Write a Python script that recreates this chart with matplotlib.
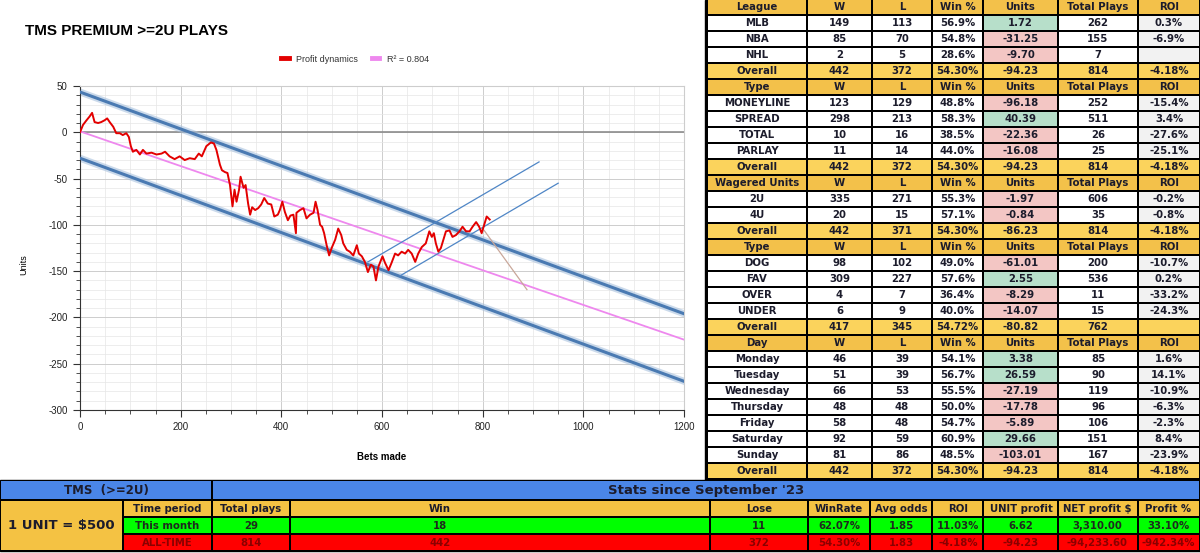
import matplotlib.pyplot as plt
from matplotlib.patches import Rectangle
from matplotlib.lines import Line2D
from matplotlib.ticker import MultipleLocator

plt.rcParams['font.family'] = ['Liberation Sans', 'DejaVu Sans']
plt.rcParams['axes.unicode_minus'] = False

# profit curve (bet number, cumulative units)
bets = [0, 6, 13, 19, 24, 29, 36, 42, 49, 54, 59, 66, 72, 79, 85, 92, 97, 101,
        105, 112, 119, 125, 132, 142, 152, 162, 169, 178, 188, 198, 208, 218,
        228, 236, 242, 251, 260, 266, 271, 278, 282, 288, 293, 298, 303, 307,
        311, 316, 319, 325, 329, 334, 338, 342, 348, 354, 360, 366, 373, 380,
        386, 393, 397, 402, 407, 413, 418, 424, 429, 430, 437, 444, 450, 457,
        464, 468, 472, 477, 481, 485, 490, 495, 500, 507, 513, 519, 523, 530,
        536, 543, 550, 554, 560, 566, 572, 578, 583, 588, 593, 601, 606, 613,
        619, 626, 632, 639, 646, 652, 659, 666, 672, 679, 687, 694, 699, 703,
        707, 712, 717, 722, 727, 734, 740, 747, 754, 760, 767, 774, 780, 787,
        793, 798, 803, 808, 814]
units = [0, 8, 13, 17, 21, 11, 10, 11, 13, 15, 11, 6, -1, -1, -3, -1, -5, -15,
         -21, -19, -24, -19, -23, -22, -24, -23, -21, -26, -29, -26, -30, -28,
         -29, -23, -26, -15, -11, -12, -19, -35, -41, -43, -44, -57, -80, -62,
         -75, -62, -48, -60, -57, -77, -89, -81, -84, -82, -78, -71, -77, -78,
         -91, -89, -84, -75, -86, -95, -90, -89, -109, -87, -84, -82, -93, -89,
         -87, -75, -84, -100, -102, -109, -122, -133, -125, -116, -104, -111, -120, -127,
         -129, -133, -122, -131, -134, -140, -151, -143, -145, -160, -145, -134, -141, -149,
         -141, -131, -133, -129, -131, -127, -131, -140, -131, -124, -120, -107, -113, -109,
         -120, -129, -125, -116, -107, -106, -113, -111, -107, -102, -107, -107, -102, -97,
         -102, -109, -100, -91, -94.23]

# trend lines (end points in bets / units)
trend_x = [0, 1200]
trend_y = [1, -224]
channel_top = [43.5, -196]
channel_bottom = [-28, -269]
rise1_x, rise1_y = [572, 912], [-140, -32]
rise2_x, rise2_y = [636, 950], [-155, -55]
proj_x, proj_y = [803, 888], [-106, -170]

# breakdown table
table_cols = ["W", "L", "Win %", "Units", "Total Plays", "ROI"]
league_rows = [
    ["MLB", "149", "113", "56.9%", "1.72", "262", "0.3%"],
    ["NBA", "85", "70", "54.8%", "-31.25", "155", "-6.9%"],
    ["NHL", "2", "5", "28.6%", "-9.70", "7", ""],
]
league_total = ["Overall", "442", "372", "54.30%", "-94.23", "814", "-4.18%"]
bet_type_rows = [
    ["MONEYLINE", "123", "129", "48.8%", "-96.18", "252", "-15.4%"],
    ["SPREAD", "298", "213", "58.3%", "40.39", "511", "3.4%"],
    ["TOTAL", "10", "16", "38.5%", "-22.36", "26", "-27.6%"],
    ["PARLAY", "11", "14", "44.0%", "-16.08", "25", "-25.1%"],
]
bet_type_total = ["Overall", "442", "372", "54.30%", "-94.23", "814", "-4.18%"]
wager_rows = [
    ["2U", "335", "271", "55.3%", "-1.97", "606", "-0.2%"],
    ["4U", "20", "15", "57.1%", "-0.84", "35", "-0.8%"],
]
wager_total = ["Overall", "442", "371", "54.30%", "-86.23", "814", "-4.18%"]
side_rows = [
    ["DOG", "98", "102", "49.0%", "-61.01", "200", "-10.7%"],
    ["FAV", "309", "227", "57.6%", "2.55", "536", "0.2%"],
    ["OVER", "4", "7", "36.4%", "-8.29", "11", "-33.2%"],
    ["UNDER", "6", "9", "40.0%", "-14.07", "15", "-24.3%"],
]
side_total = ["Overall", "417", "345", "54.72%", "-80.82", "762", ""]
day_rows = [
    ["Monday", "46", "39", "54.1%", "3.38", "85", "1.6%"],
    ["Tuesday", "51", "39", "56.7%", "26.59", "90", "14.1%"],
    ["Wednesday", "66", "53", "55.5%", "-27.19", "119", "-10.9%"],
    ["Thursday", "48", "48", "50.0%", "-17.78", "96", "-6.3%"],
    ["Friday", "58", "48", "54.7%", "-5.89", "106", "-2.3%"],
    ["Saturday", "92", "59", "60.9%", "29.66", "151", "8.4%"],
    ["Sunday", "81", "86", "48.5%", "-103.01", "167", "-23.9%"],
]
day_total = ["Overall", "442", "372", "54.30%", "-94.23", "814", "-4.18%"]
sections = [("League", league_rows, league_total),
            ("Type", bet_type_rows, bet_type_total),
            ("Wagered Units", wager_rows, wager_total),
            ("Type", side_rows, side_total),
            ("Day", day_rows, day_total)]

# summary strip at the bottom
summary_head = ["Time period", "Total plays", "Win", "Lose", "WinRate", "Avg odds",
                "ROI", "UNIT profit", "NET profit $", "Profit %"]
month_row = ["This month", "29", "18", "11", "62.07%", "1.85", "11.03%", "6.62",
             "3,310.00", "33.10%"]
alltime_row = ["ALL-TIME", "814", "442", "372", "54.30%", "1.83", "-4.18%", "-94.23",
               "-94,233.60", "-942.34%"]

W, H = 1200, 553
fig = plt.figure(figsize=(12, 5.53), dpi=100)

# ---- chart ----
ax = fig.add_axes([80 / W, 1 - 410 / H, 604 / W, 324 / H])
ax.set_xlim(0, 1200)
ax.set_ylim(-300, 50)
ax.xaxis.set_major_locator(MultipleLocator(200))
ax.xaxis.set_minor_locator(MultipleLocator(50))
ax.yaxis.set_major_locator(MultipleLocator(50))
ax.yaxis.set_minor_locator(MultipleLocator(10))
ax.grid(which='major', color='#cdcdcd', lw=0.7)
ax.grid(which='minor', color='#e6e6e6', lw=0.5)
ax.set_axisbelow(True)
ax.axhline(0, color='#8c8c8c', lw=1.2, zorder=1)
ax.tick_params(which='major', length=5, width=0.8, color='#333333',
               labelsize=7, labelcolor='#222222', pad=4)
ax.tick_params(which='minor', length=3, width=0.6, color='#333333')
for side in ['left', 'bottom']:
    ax.spines[side].set_color('#333333')
for side in ['top', 'right']:
    ax.spines[side].set_color('#cdcdcd')

for ys in [channel_top, channel_bottom]:
    ax.plot(trend_x, ys, color='#a9c2de', lw=5, alpha=0.6, zorder=2)
    ax.plot(trend_x, ys, color='#4a7ab2', lw=2.2, zorder=3)
ax.plot(trend_x, trend_y, color='#ee88ee', lw=1.3, zorder=3)
ax.plot(rise1_x, rise1_y, color='#4f86c6', lw=0.9, zorder=3)
ax.plot(rise2_x, rise2_y, color='#4f86c6', lw=0.9, zorder=3)
ax.plot(proj_x, proj_y, color='#c9a79a', lw=0.9, zorder=3)
ax.plot(bets, units, color='#e30000', lw=1.4, zorder=4)

ax.set_ylabel("Units", fontsize=6.5)
ax.yaxis.set_label_coords(-52 / 604, 145 / 324)
ax.set_xlabel("Bets made", fontsize=7, fontweight='bold')
ax.xaxis.set_label_coords(0.5, -42 / 324)

handles = [Line2D([], [], color='#e30000', lw=3.5),
           Line2D([], [], color='#ee88ee', lw=3.5)]
fig.legend(handles, ["Profit dynamics", "R\u00b2 = 0.804"], loc='center',
           bbox_to_anchor=(355 / W, 1 - 59 / H), ncol=2, frameon=False,
           fontsize=6.5, handlelength=0.8, handletextpad=0.8, columnspacing=1.6,
           labelcolor='#333333')

fig.text(25 / W, 1 - 31 / H, "TMS PREMIUM >=2U PLAYS", fontsize=11,
         fontweight='bold', va='center', ha='left')

# ---- tables, drawn in pixel coordinates ----
tax = fig.add_axes([0, 0, 1, 1], zorder=5)
tax.set_xlim(0, W)
tax.set_ylim(H, 0)
tax.axis('off')
tax.patch.set_alpha(0)

tfont = ['DejaVu Sans']
col_edges = [707, 807, 872, 932, 983, 1058, 1138, 1200]
row_h = 16
top = -1
gold_head = '#f3c14a'
gold_total = '#fbd35c'
green = '#b7dfca'
red = '#f3c6c4'
grey = '#f2f2f2'
ink = '#1c1c2c'

tax.add_patch(Rectangle((705, 0), 495, 481, color='black'))


def cell(x0, x1, y0, y1, text, face, color=ink, size=7.3, inset=0.9):
    tax.add_patch(Rectangle((x0 + inset, y0 + inset), x1 - x0 - 2 * inset,
                            y1 - y0 - 2 * inset, facecolor=face, edgecolor='none'))
    if text:
        tax.text((x0 + x1) / 2, (y0 + y1) / 2 + 0.5, text, ha='center', va='center',
                 fontsize=size, fontweight='bold', color=color, family=tfont)


r = 0
for title, rows, total in sections:
    header = [title] + table_cols
    lines = [(header, 'head')] + [(row, 'body') for row in rows] + [(total, 'total')]
    for values, kind in lines:
        y0 = top + r * row_h
        for c, val in enumerate(values):
            if kind == 'head':
                face = gold_head
            elif kind == 'total':
                face = gold_total
            elif c == 4:
                face = red if val.startswith('-') else green
            elif c == 6:
                face = grey
            else:
                face = 'white'
            cell(col_edges[c], col_edges[c + 1], y0, y0 + row_h, val, face)
        r += 1

# bottom strip
row_y = [480, 500, 517, 534, 551]
blue = '#4a86e8'
gold = '#f4c243'
tax.add_patch(Rectangle((0, row_y[0]), W, row_y[-1] - row_y[0], color='black'))
cell(0, 212, row_y[0], row_y[1], "TMS  (>=2U)", blue, size=8.5)
cell(212, W, row_y[0], row_y[1], "Stats since September '23", blue, size=9.5)
cell(0, 123, row_y[1], row_y[4], "1 UNIT = $500", gold, size=9.5)

strip_edges = [123, 212, 290, 710, 808, 870, 932, 983, 1058, 1138, 1200]
strip_text_x = [167, 251, 440, 759, 839, 901, 958, 1021, 1097, 1168]
strip_rows = [(summary_head, gold, ink), (month_row, '#00ff00', '#1d2a1d'),
              (alltime_row, '#ff0000', '#8a0000')]
for i, (values, face, color) in enumerate(strip_rows):
    y0, y1 = row_y[i + 1], row_y[i + 2]
    for c, val in enumerate(values):
        cell(strip_edges[c], strip_edges[c + 1], y0, y1, "", face, inset=0.7)
        tax.text(strip_text_x[c], (y0 + y1) / 2 + 0.5, val, ha='center', va='center',
                 fontsize=7.3, fontweight='bold', color=color, family=tfont)

fig.savefig('out.png', dpi=100)
